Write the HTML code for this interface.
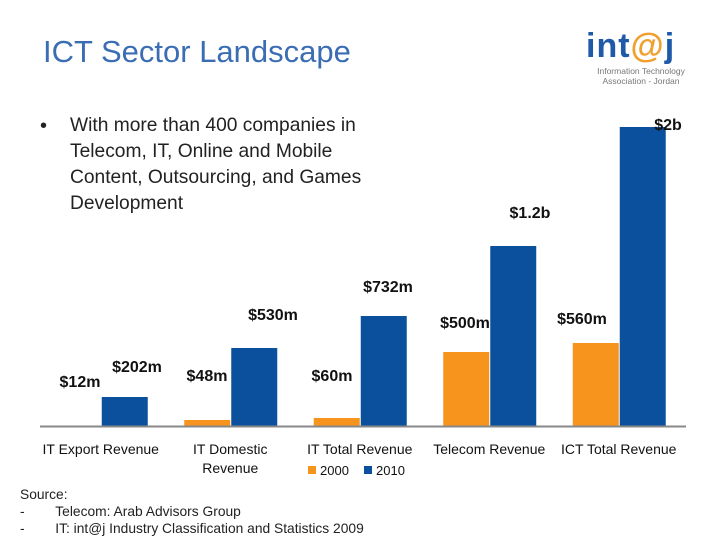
<!DOCTYPE html>
<html><head><meta charset="utf-8"><style>
body{margin:0;width:720px;height:540px;background:#fff;overflow:hidden;font-family:"Liberation Sans",sans-serif;position:relative}
.t{position:absolute;white-space:nowrap}
</style></head><body>
<div class="t" style="left:43px;top:34px;font-size:31px;color:#3a6db3;">ICT Sector Landscape</div>
<div style="position:absolute;left:586px;top:28px;width:110px;">
 <div style="font-size:34px;font-weight:bold;color:#1e5aa8;line-height:36px;letter-spacing:1px">int<span style="color:#f0a030">@</span>j</div>
 <div style="font-size:8.5px;color:#777;text-align:center;line-height:10px;margin-top:2px">Information Technology<br>Association - Jordan</div>
</div>
<div class="t" style="left:40px;top:113px;font-size:20px;line-height:26px;color:#222">•</div>
<div class="t" style="left:70px;top:113px;font-size:19.2px;line-height:26px;color:#222">With more than 400 companies in<br>Telecom, IT, Online and Mobile<br>Content, Outsourcing, and Games<br>Development</div>
<svg id="chart" width="720" height="540" style="position:absolute;left:0;top:0"></svg>
<div class="t" style="left:20px;top:486px;font-size:13.8px;line-height:17px;color:#222">Source:<br>-&nbsp;&nbsp;&nbsp;&nbsp;&nbsp;&nbsp;&nbsp;&nbsp;Telecom: Arab Advisors Group<br>-&nbsp;&nbsp;&nbsp;&nbsp;&nbsp;&nbsp;&nbsp;&nbsp;IT: int@j Industry Classification and Statistics 2009</div>
<script>
const categories=["IT Export Revenue","IT Domestic|Revenue","IT Total Revenue","Telecom Revenue","ICT Total Revenue"];
const values2000=[0,6,8,74,83];
const values2010=[29,78,110,180,299];
const labels2000=["$12m","$48m","$60m","$500m","$560m"];
const labels2010=["$202m","$530m","$732m","$1.2b","$2b"];
const NS="http://www.w3.org/2000/svg";
const svg=document.getElementById('chart');
const base=426,x0=36,gw=129.5,bw=46;
const x=i=>x0+gw*(i+0.5);
const y=v=>base-v;
function mk(t,a){const e=document.createElementNS(NS,t);for(const k in a)e.setAttribute(k,a[k]);svg.appendChild(e);return e;}
const l2000pos=[[80,387],[207,381],[332,381],[465,328],[582,324]];
const l2010pos=[[137,372],[273,320],[388,292],[530,218],[668,130]];
categories.forEach((c,i)=>{
 if(values2000[i]>0){const r=mk('rect',{x:x(i)-bw,y:y(values2000[i]),width:bw,height:values2000[i],fill:'#f7941d'});
 
 }
 const b=mk('rect',{x:x(i)+1,y:y(values2010[i]),width:bw,height:values2010[i],fill:'#0a509c'});
 
 
 [[labels2000,l2000pos,'2000'],[labels2010,l2010pos,'2010']].forEach(([L,P,s])=>{
  const t=mk('text',{x:P[i][0],y:P[i][1],'text-anchor':'middle','font-size':'16','font-weight':'bold',fill:'#111'});
  t.textContent=L[i];
  
  
 });
 c.split('|').forEach((ln,j)=>{
  const t=mk('text',{x:x(i),y:454+j*19,'text-anchor':'middle','font-size':'14',fill:'#111'});
  t.textContent=ln;
  
  
 });
});
const ax=mk('line',{x1:40,x2:686,y1:base+0.5,y2:base+0.5,stroke:'#888','stroke-width':2});


[['#f7941d','2000',308],['#0a509c','2010',364]].forEach(([c,s,lx])=>{
 const r=mk('rect',{x:lx,y:466,width:8,height:8,fill:c});
 
 
 const t=mk('text',{x:lx+12,y:475,'font-size':'13',fill:'#111'});
 t.textContent=s;
 
 
});
</script>
</body></html>
